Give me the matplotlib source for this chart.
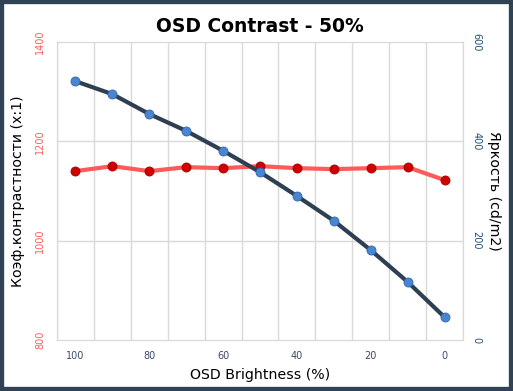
import matplotlib
matplotlib.use("Agg")
import matplotlib.pyplot as plt
from matplotlib.patches import Rectangle
import numpy as np

# данные
brightness = ["100", "90", "80", "70", "60", "50", "40", "30", "20", "10", "0"]
contrast = [1140, 1150, 1140, 1148, 1146, 1150, 1146, 1144, 1146, 1148, 1122]
luminance = [521, 495, 455, 421, 381, 338, 290, 240, 181, 117, 46]

x = np.arange(len(brightness))

fig = plt.figure(figsize=(5.13, 3.91), dpi=100)
ax = fig.add_axes([57 / 513, 1 - 340 / 391, (463 - 57) / 513, (340 - 42) / 391])
ax2 = ax.twinx()

grid_c = "#D9D9D9"
ax.set_xlim(-0.5, len(brightness) - 0.5)
ax.set_ylim(800, 1400)
ax2.set_ylim(0, 600)
ax.set_yticks([800, 1000, 1200, 1400])
ax2.set_yticks([0, 200, 400, 600])
ax.set_xticks(x[::2])
ax.set_xticklabels(brightness[::2])

# сетка
for b in np.arange(-0.5, len(brightness), 1.0):
    ax.axvline(b, color=grid_c, lw=1, zorder=0)
for v in [1000, 1200]:
    ax.axhline(v, color=grid_c, lw=1, zorder=0)
for a in (ax, ax2):
    for s in a.spines.values():
        s.set_color(grid_c)
    a.tick_params(length=0)

ax.tick_params(axis="y", colors="#FF5B5B", labelsize=7, pad=8.5)
for t in ax.get_yticklabels():
    t.set_rotation(90)
    t.set_va("center")
ax2.tick_params(axis="y", colors="#1F4E79", labelsize=7, pad=6)
for t in ax2.get_yticklabels():
    t.set_rotation(-90)
    t.set_va("center")
ax.tick_params(axis="x", colors="#3B4A6B", labelsize=7, pad=8)

ax.plot(x, contrast, color="#FF5A5A", lw=3, zorder=3,
        marker="o", ms=6.5, mfc="#D00000", mec="#A00000", mew=0.6)
ax2.plot(x, luminance, color="#2E3F52", lw=3, zorder=3,
         marker="o", ms=6.5, mfc="#4A86D0", mec="#2F66B0", mew=0.6)

ax.set_title("OSD Contrast - 50%", fontsize=13.5, fontweight="bold", pad=7)
ax.set_xlabel("OSD Brightness (%)", fontsize=10.2, labelpad=5)
ax.set_ylabel("Коэф.контрастности (x:1)", fontsize=10.2, labelpad=7)
ax2.set_ylabel("Яркость (cd/m2)", fontsize=10.2, rotation=-90, labelpad=14)

fig.patches.append(Rectangle((0, 0), 1, 1, transform=fig.transFigure,
                             fill=False, edgecolor="#2F4256", lw=6))

fig.savefig("out.png", dpi=100)
